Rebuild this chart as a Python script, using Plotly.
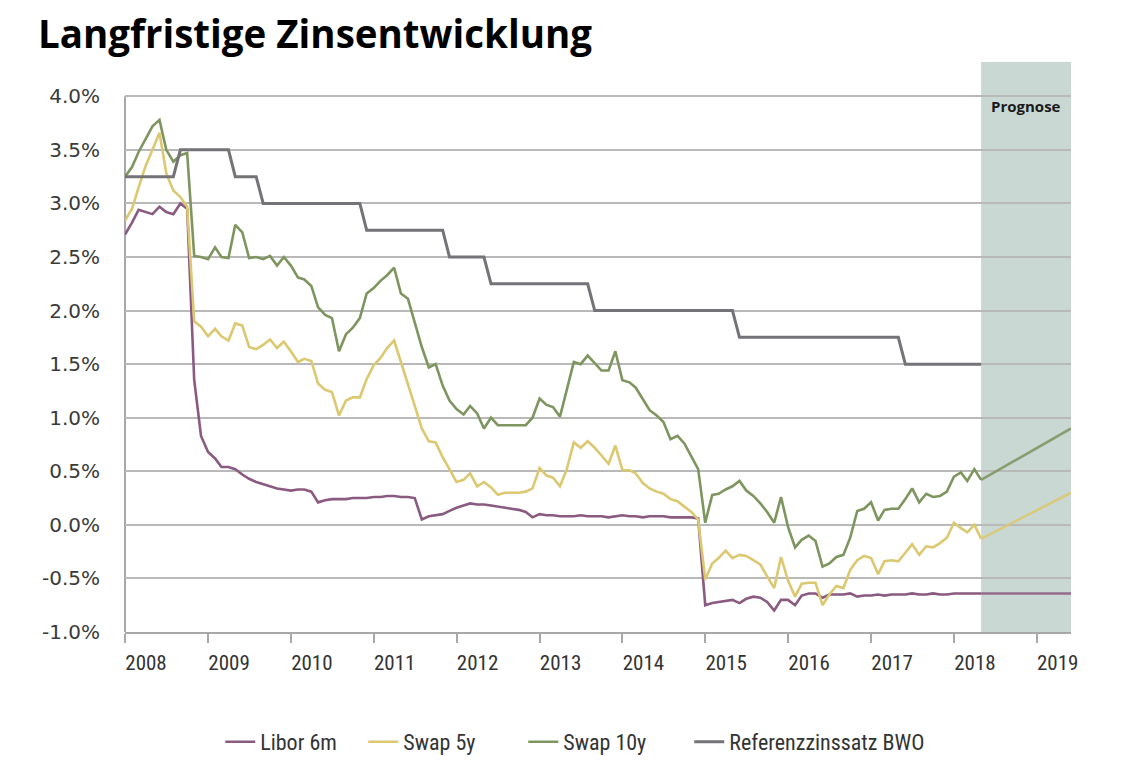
import pandas as pd
import plotly.graph_objects as go

# Monthly observations, Jan 2008 - May 2018 (in %)
months = pd.date_range("2008-01-01", "2018-05-01", freq="MS")

libor_6m = [
    2.71, 2.82, 2.94, 2.92, 2.90, 2.97, 2.92, 2.90, 3.00, 2.95, 1.35, 0.83,  # 2008
    0.68, 0.62, 0.54, 0.54, 0.52, 0.47, 0.43, 0.40, 0.38, 0.36, 0.34, 0.33,  # 2009
    0.32, 0.33, 0.33, 0.31, 0.21, 0.23, 0.24, 0.24, 0.24, 0.25, 0.25, 0.25,  # 2010
    0.26, 0.26, 0.27, 0.27, 0.26, 0.26, 0.25, 0.05, 0.08, 0.09, 0.10, 0.13,  # 2011
    0.16, 0.18, 0.20, 0.19, 0.19, 0.18, 0.17, 0.16, 0.15, 0.14, 0.12, 0.07,  # 2012
    0.10, 0.09, 0.09, 0.08, 0.08, 0.08, 0.09, 0.08, 0.08, 0.08, 0.07, 0.08,  # 2013
    0.09, 0.08, 0.08, 0.07, 0.08, 0.08, 0.08, 0.07, 0.07, 0.07, 0.07, 0.06,  # 2014
    -0.75, -0.73, -0.72, -0.71, -0.70, -0.73, -0.69, -0.67, -0.68, -0.72, -0.80, -0.70,  # 2015
    -0.70, -0.75, -0.66, -0.64, -0.64, -0.68, -0.65, -0.65, -0.65, -0.64, -0.67, -0.66,  # 2016
    -0.66, -0.65, -0.66, -0.65, -0.65, -0.65, -0.64, -0.65, -0.65, -0.64, -0.65, -0.65,  # 2017
    -0.64, -0.64, -0.64, -0.64, -0.64,  # 2018
]

swap_5y = [
    2.84, 2.95, 3.15, 3.35, 3.50, 3.66, 3.28, 3.12, 3.06, 2.97, 1.90, 1.85,  # 2008
    1.76, 1.83, 1.76, 1.72, 1.88, 1.86, 1.66, 1.64, 1.68, 1.73, 1.65, 1.71,  # 2009
    1.62, 1.52, 1.55, 1.53, 1.32, 1.26, 1.24, 1.02, 1.16, 1.19, 1.19, 1.36,  # 2010
    1.49, 1.56, 1.65, 1.72, 1.52, 1.32, 1.11, 0.90, 0.78, 0.77, 0.63, 0.52,  # 2011
    0.40, 0.42, 0.48, 0.36, 0.40, 0.35, 0.28, 0.30, 0.30, 0.30, 0.31, 0.34,  # 2012
    0.53, 0.46, 0.44, 0.36, 0.52, 0.77, 0.72, 0.78, 0.72, 0.65, 0.57, 0.74,  # 2013
    0.51, 0.51, 0.48, 0.39, 0.34, 0.31, 0.29, 0.24, 0.22, 0.17, 0.12, 0.05,  # 2014
    -0.51, -0.36, -0.31, -0.24, -0.31, -0.28, -0.29, -0.33, -0.37, -0.48, -0.59, -0.30,  # 2015
    -0.52, -0.67, -0.55, -0.54, -0.54, -0.75, -0.65, -0.57, -0.59, -0.42, -0.33, -0.29,  # 2016
    -0.31, -0.46, -0.34, -0.33, -0.34, -0.26, -0.18, -0.28, -0.20, -0.21, -0.17, -0.12,  # 2017
    0.02, -0.03, -0.07, 0.00, -0.13,  # 2018
]

swap_10y = [
    3.25, 3.34, 3.48, 3.60, 3.72, 3.78, 3.50, 3.39, 3.45, 3.47, 2.51, 2.50,  # 2008
    2.48, 2.59, 2.50, 2.49, 2.80, 2.73, 2.49, 2.50, 2.48, 2.51, 2.42, 2.50,  # 2009
    2.42, 2.31, 2.29, 2.23, 2.03, 1.96, 1.93, 1.62, 1.78, 1.84, 1.93, 2.16,  # 2010
    2.21, 2.28, 2.33, 2.40, 2.16, 2.11, 1.88, 1.66, 1.47, 1.50, 1.30, 1.16,  # 2011
    1.08, 1.03, 1.11, 1.04, 0.90, 1.00, 0.93, 0.93, 0.93, 0.93, 0.93, 1.00,  # 2012
    1.18, 1.12, 1.10, 1.01, 1.25, 1.52, 1.50, 1.58, 1.51, 1.44, 1.44, 1.62,  # 2013
    1.35, 1.33, 1.28, 1.17, 1.07, 1.02, 0.96, 0.80, 0.83, 0.76, 0.64, 0.52,  # 2014
    0.02, 0.28, 0.29, 0.33, 0.36, 0.41, 0.32, 0.27, 0.20, 0.12, 0.02, 0.26,  # 2015
    -0.02, -0.21, -0.14, -0.10, -0.15, -0.39, -0.36, -0.30, -0.28, -0.12, 0.13, 0.15,  # 2016
    0.21, 0.04, 0.14, 0.15, 0.15, 0.24, 0.34, 0.21, 0.29, 0.26, 0.27, 0.31,  # 2017
    0.45, 0.49, 0.41, 0.52, 0.42,  # 2018
]

referenz_bwo = [
    3.25, 3.25, 3.25, 3.25, 3.25, 3.25, 3.25, 3.25, 3.50, 3.50, 3.50, 3.50,  # 2008
    3.50, 3.50, 3.50, 3.50, 3.25, 3.25, 3.25, 3.25, 3.00, 3.00, 3.00, 3.00,  # 2009
    3.00, 3.00, 3.00, 3.00, 3.00, 3.00, 3.00, 3.00, 3.00, 3.00, 3.00, 2.75,  # 2010
    2.75, 2.75, 2.75, 2.75, 2.75, 2.75, 2.75, 2.75, 2.75, 2.75, 2.75, 2.50,  # 2011
    2.50, 2.50, 2.50, 2.50, 2.50, 2.25, 2.25, 2.25, 2.25, 2.25, 2.25, 2.25,  # 2012
    2.25, 2.25, 2.25, 2.25, 2.25, 2.25, 2.25, 2.25, 2.00, 2.00, 2.00, 2.00,  # 2013
    2.00, 2.00, 2.00, 2.00, 2.00, 2.00, 2.00, 2.00, 2.00, 2.00, 2.00, 2.00,  # 2014
    2.00, 2.00, 2.00, 2.00, 2.00, 1.75, 1.75, 1.75, 1.75, 1.75, 1.75, 1.75,  # 2015
    1.75, 1.75, 1.75, 1.75, 1.75, 1.75, 1.75, 1.75, 1.75, 1.75, 1.75, 1.75,  # 2016
    1.75, 1.75, 1.75, 1.75, 1.75, 1.50, 1.50, 1.50, 1.50, 1.50, 1.50, 1.50,  # 2017
    1.50, 1.50, 1.50, 1.50, 1.50,  # 2018
]

# Forecast (Prognose) segment
forecast_dates = ["2018-05-01", "2019-06-01"]
forecast_libor = [-0.64, -0.64]
forecast_swap5 = [-0.13, 0.30]
forecast_swap10 = [0.42, 0.90]

series_names = ["Libor 6m", "Swap 5y", "Swap 10y", "Referenzzinssatz BWO"]
colors = ["#8a5a80", "#dcc870", "#7e955f", "#737378"]
legend_widths = [98, 115, 121, 215]

x_start, x_end = "2008-01-01", "2019-06-01"
y_ticks = [-1.0, -0.5, 0.0, 0.5, 1.0, 1.5, 2.0, 2.5, 3.0, 3.5, 4.0]
y_top = 4.32

# page has an 8px body margin: figure is sized to fit inside the window
W, H = 1121, 747

fig = go.Figure()

hist = [libor_6m, swap_5y, swap_10y, referenz_bwo]
for name, vals, col, lw in zip(series_names, hist, colors, legend_widths):
    fig.add_trace(go.Scatter(
        x=months, y=vals, mode="lines", name=name, legendwidth=lw,
        line=dict(color=col, width=3 if name.startswith("Ref") else 2.6),
    ))

for vals, col in zip([forecast_libor, forecast_swap5, forecast_swap10], colors[:3]):
    fig.add_trace(go.Scatter(
        x=forecast_dates, y=vals, mode="lines", showlegend=False,
        line=dict(color=col, width=2.6), opacity=0.85,
    ))

# Prognose shaded area
fig.add_shape(type="rect", xref="x", yref="y",
              x0=forecast_dates[0], x1=x_end, y0=y_ticks[0], y1=y_top,
              fillcolor="#c9d8d3", line=dict(width=0), layer="below")
# y axis line (only up to the top tick)
fig.add_shape(type="line", xref="x domain", yref="y",
              x0=0, x1=0, y0=y_ticks[0], y1=y_ticks[-1],
              line=dict(color="#a8a8a8", width=2), layer="below")

mid = pd.Timestamp(forecast_dates[0]) + (pd.Timestamp(x_end) - pd.Timestamp(forecast_dates[0])) / 2
fig.add_annotation(x=mid, y=3.91, xref="x", yref="y", text="<b>Prognose</b>",
                   showarrow=False, font=dict(family="Open Sans", size=15, color="#1a1a1a"))

fig.update_layout(
    width=W, height=H,
    paper_bgcolor="white", plot_bgcolor="white",
    margin=dict(l=117, r=58, t=54, b=123, autoexpand=False),
    title=dict(text="<b>Langfristige Zinsentwicklung</b>", x=30 / W, xanchor="left",
               xref="container", y=1 - 27 / H, yanchor="middle", yref="container",
               font=dict(family="Open Sans", size=38.5, color="#000000")),
    showlegend=True,
    legend=dict(orientation="h", x=0.486, xanchor="center", y=1 - 734 / H, yanchor="middle",
                yref="container",
                font=dict(family="Liberation Sans Narrow, Roboto Condensed, Roboto", size=22, color="#333333"),
                itemwidth=30, tracegroupgap=0),
    xaxis=dict(
        type="date", range=[x_start, x_end], automargin=False,
        tick0="2008-01-01", dtick="M12", tickformat="%Y",
        ticks="outside", ticklen=9, tickwidth=1.5, tickcolor="#a8a8a8",
        showline=True, linecolor="#a8a8a8", linewidth=2,
        showgrid=False, zeroline=False,
        ticklabelshift=21, ticklabelstandoff=2,
        tickfont=dict(family="Liberation Sans Narrow, Roboto Condensed, Roboto", size=21, color="#333333"),
    ),
    yaxis=dict(
        range=[y_ticks[0], y_top], tickvals=y_ticks, automargin=False,
        ticktext=[f"{v:.1f}%" for v in y_ticks],
        showgrid=True, gridcolor="#b9b9b9", gridwidth=2,
        zeroline=False, showline=False, ticks="",
        ticklabelstandoff=24,
        tickfont=dict(family="Verdana, DejaVu Sans", size=20, color="#3a3a3a"),
    ),
)

fig.write_html("out.html")
